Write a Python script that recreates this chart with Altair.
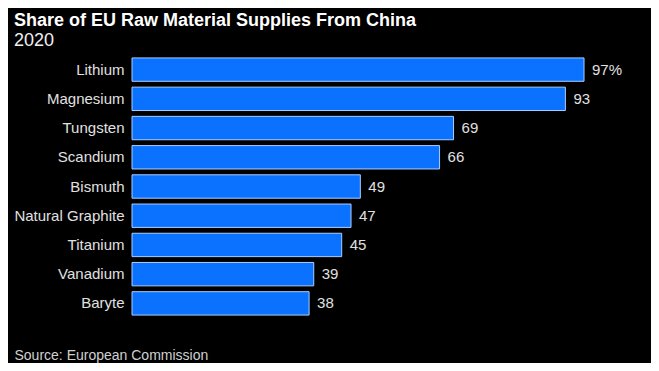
import altair as alt
import pandas as pd

materials = ["Lithium", "Magnesium", "Tungsten", "Scandium", "Bismuth",
             "Natural Graphite", "Titanium", "Vanadium", "Baryte"]
shares = [97, 93, 69, 66, 49, 47, 45, 39, 38]
labels = ["97%", "93", "69", "66", "49", "47", "45", "39", "38"]

df = pd.DataFrame({"material": materials, "share": shares, "label": labels})

FONT = "Liberation Sans"

y_enc = alt.Y("material:N", sort=materials,
              scale=alt.Scale(paddingInner=0.2, paddingOuter=0.1),
              axis=alt.Axis(title=None, domain=False, ticks=False,
                            labelColor="#e0e0e0", labelFont=FONT,
                            labelFontSize=15, labelPadding=8))
x_enc = alt.X("share:Q", scale=alt.Scale(domain=[0, 100]),
              axis=alt.Axis(title="Source: European Commission",
                            labels=False, ticks=False, domain=False, grid=False,
                            titleAnchor="start", titleAlign="left",
                            titleBaseline="top", titleX=-118, titleY=30,
                            titleColor="#d0d0d0", titleFont=FONT,
                            titleFontSize=14, titleFontWeight="normal"))

bars = alt.Chart(df).mark_bar(color="#0a72ff", stroke="#a9cdff",
                              strokeWidth=1).encode(y=y_enc, x=x_enc)

text = alt.Chart(df).mark_text(align="left", baseline="middle", dx=8,
                               color="#e0e0e0", font=FONT, fontSize=15).encode(
    y=alt.Y("material:N", sort=materials),
    x="share:Q",
    text="label:N")

chart = (bars + text).properties(
    width=466, height=263,
    padding={"left": 124, "top": 47, "right": 53, "bottom": 45},
    autosize=alt.AutoSizeParams(type="none"),
    background="#000000",
    title=alt.TitleParams(
        text="Share of EU Raw Material Supplies From China",
        subtitle="2020",
        anchor="start", frame="group", dx=-118, offset=5,
        color="#ffffff", font=FONT, fontSize=18, fontWeight="bold",
        subtitleColor="#f0f0f0", subtitleFont=FONT, subtitleFontSize=18,
        subtitlePadding=2),
).configure_view(stroke=None)

chart.save("out.html", embed_options={"renderer": "svg", "actions": False})
